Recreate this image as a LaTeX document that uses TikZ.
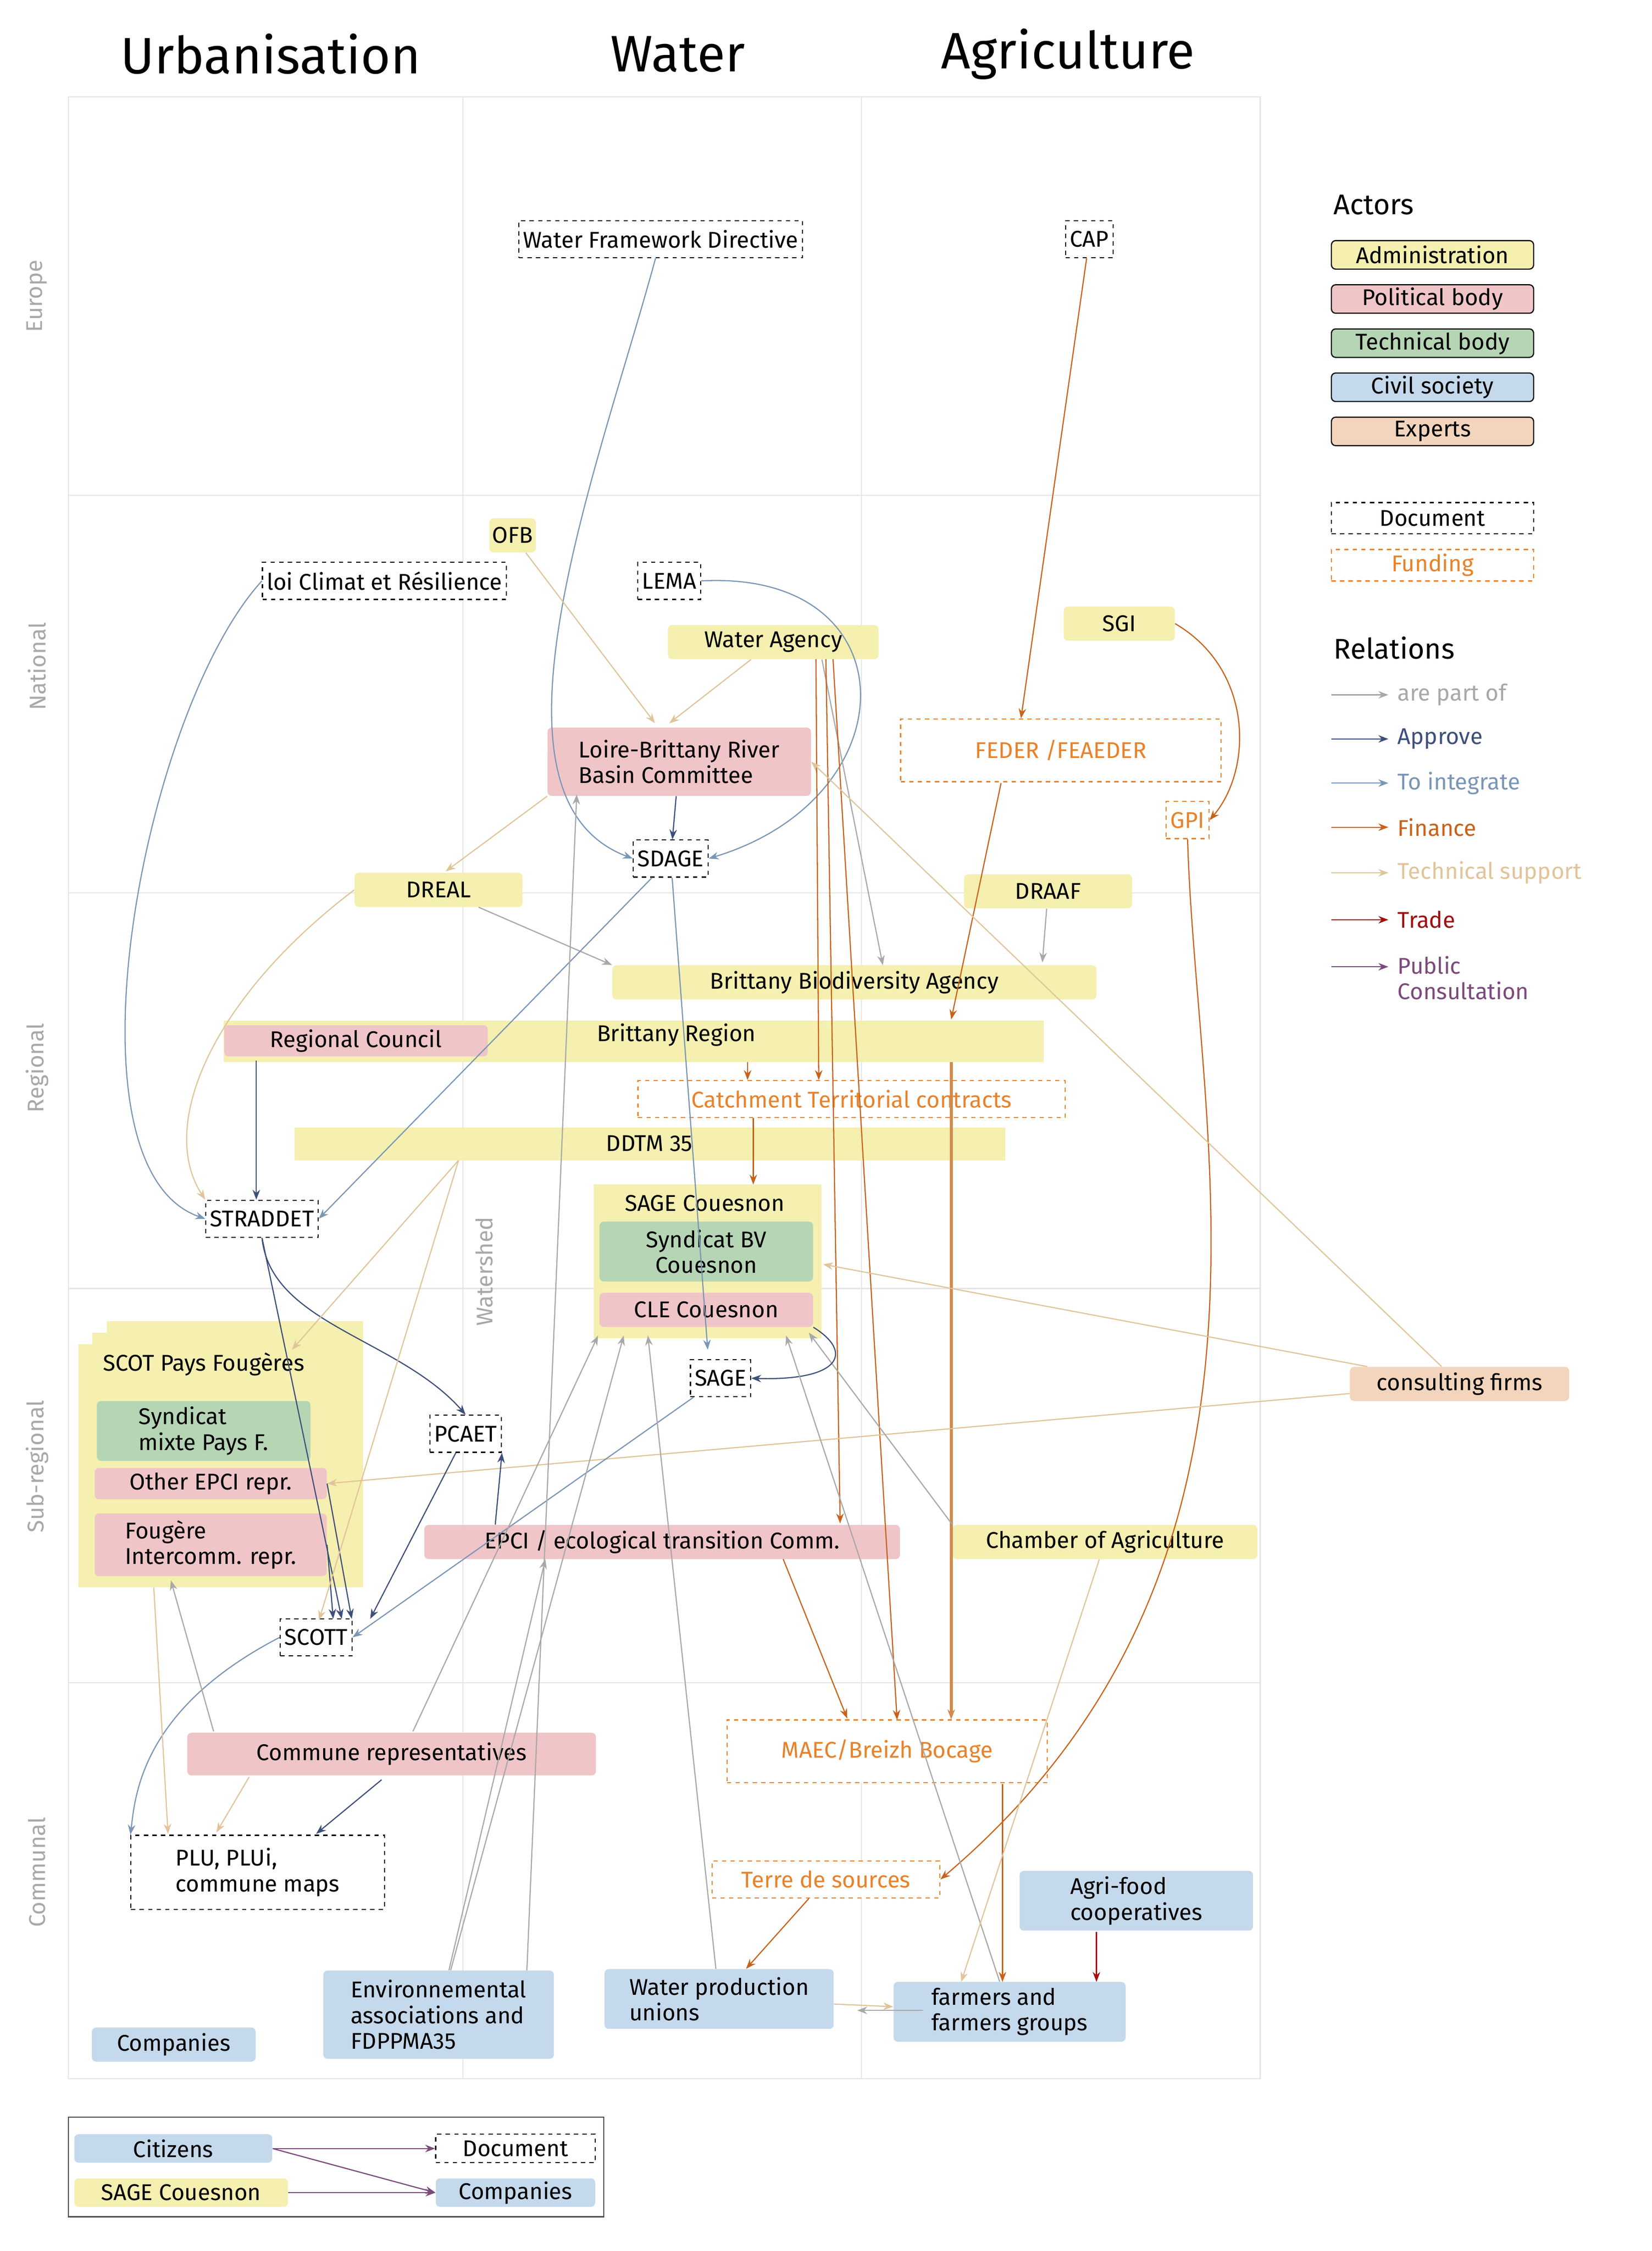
\documentclass[tikz,border=0pt]{standalone}
\usepackage{fontspec}
\setmainfont{Fira Sans}
\usetikzlibrary{arrows.meta}
\definecolor{adm}{HTML}{F5EFB0}\definecolor{pol}{HTML}{EFC5C8}\definecolor{tec}{HTML}{B5D5B5}
\definecolor{civ}{HTML}{C5D9EC}\definecolor{exp}{HTML}{F2D5BC}
\definecolor{fin}{HTML}{C8621A}\definecolor{tsup}{HTML}{E0C49A}\definecolor{appr}{HTML}{3D4F7A}
\definecolor{integ}{HTML}{7A95B5}\definecolor{part}{HTML}{A8A8A8}\definecolor{trade}{HTML}{A01010}
\definecolor{cons}{HTML}{7A4A7A}\definecolor{fintxt}{HTML}{E8822A}
\begin{document}
\begin{tikzpicture}[x=1pt,y=-1pt,font=\fontsize{16}{18}\selectfont,
 box/.style={rounded corners=3pt,inner sep=2pt,minimum height=24pt,align=center},
 ad/.style={box,fill=adm},po/.style={box,fill=pol},te/.style={box,fill=tec},
 ci/.style={box,fill=civ},ex/.style={box,fill=exp},
 doc/.style={draw,dashed,thick,inner sep=3pt,minimum height=26pt,fill=white},
 fu/.style={draw=fintxt,dashed,thick,text=fintxt,inner sep=3pt,minimum height=26pt,fill=white},
 a/.style={-{Stealth[length=7pt]},thick},
 apr/.style={a,appr},int/.style={a,integ},fi/.style={a,fin},ts/.style={a,tsup},pa/.style={a,part},
 tr/.style={a,trade},cn/.style={a,cons},
 rowl/.style={rotate=90,text=part},colh/.style={font=\fontsize{36}{40}\selectfont}]
\useasboundingbox (0,0) rectangle (1160,1581);
% grid
\draw[black!10,thick] (48,68) rectangle (885,1460);
\foreach \x in {325,605} \draw[black!10,thick] (\x,68)--(\x,1460);
\foreach \y in {348,627,905,1182} \draw[black!10,thick] (48,\y)--(885,\y);
\node[colh] at (190,38) {Urbanisation};\node[colh] at (476,38) {Water};\node[colh] at (750,38) {Agriculture};
\node[rowl] at (26,208) {Europe};\node[rowl] at (26,468) {National};\node[rowl] at (26,750) {Regional};
\node[rowl] at (26,1030) {Sub-regional};\node[rowl] at (26,1315) {Communal};
\node[rowl] at (340,893) {Watershed};
% big boxes
\fill[adm] (157,717) rectangle (733,746);
\fill[adm] (207,792) rectangle (706,815);
\fill[adm] (417,832) rectangle (577,940);
\fill[adm] (75,928) rectangle (255,1095);\fill[adm] (65,936) rectangle (255,1105);\fill[adm] (55,944) rectangle (255,1115);
% nodes
\node[doc] (wfd) at (464,168) {Water Framework Directive};
\node[doc] (cap) at (765,168) {CAP};
\node[ad] (ofb) at (360,376) {OFB};
\node[doc] (loi) at (270,408) {loi Climat et Résilience};
\node[doc] (lema) at (470,408) {LEMA};
\node[ad,minimum width=148pt] (wa) at (543,451) {Water Agency};
\node[ad,minimum width=78pt] (sgi) at (786,438) {SGI};
\node[po,minimum width=185pt,minimum height=48pt,align=left] (lb) at (477,535) {Loire-Brittany River\\Basin Committee};
\node[fu,minimum width=225pt,minimum height=44pt] (feder) at (745,527) {FEDER /FEAEDER};
\node[doc] (sdage) at (471,603) {SDAGE};
\node[fu] (gpi) at (834,576) {GPI};
\node[ad,minimum width=118pt] (dreal) at (308,625) {DREAL};
\node[ad,minimum width=118pt] (draaf) at (736,626) {DRAAF};
\node[ad,minimum width=340pt] (bba) at (600,690) {Brittany Biodiversity Agency};
\node (br) at (475,727) {Brittany Region};
\node[po,minimum width=185pt,minimum height=22pt] (rc) at (250,731) {Regional Council};
\node[fu,minimum width=300pt] (ctc) at (598,772) {Catchment Territorial contracts};
\node (ddtm) at (456,803) {DDTM 35};
\node[doc] (straddet) at (184,856) {STRADDET};
\node (sagec) at (495,845) {SAGE Couesnon};
\node[te,minimum width=150pt,minimum height=42pt] (sbv) at (496,879) {Syndicat BV\\Couesnon};
\node[po,minimum width=150pt] (cle) at (496,920) {CLE Couesnon};
\node[doc] (sage) at (506,968) {SAGE};
\node (scot) at (143,958) {SCOT Pays Fougères};
\node[te,minimum width=150pt,minimum height=42pt,align=left] (smpf) at (143,1005) {Syndicat\\mixte Pays F.};
\node[po,minimum width=163pt,minimum height=22pt] (oepci) at (148,1042) {Other EPCI repr.};
\node[po,minimum width=163pt,minimum height=44pt,align=left] (fic) at (148,1085) {Fougère\\Intercomm. repr.};
\node[doc] (pcaet) at (327,1007) {PCAET};
\node[po,minimum width=334pt] (epci) at (465,1083) {EPCI / ecological transition Comm.};
\node[ad,minimum width=214pt] (ca) at (776,1083) {Chamber of Agriculture};
\node[ex,minimum width=154pt] (cf) at (1025,972) {consulting firms};
\node[doc] (scott) at (222,1150) {SCOTT};
\node[po,minimum width=287pt,minimum height=30pt] (cr) at (275,1232) {Commune representatives};
\node[fu,minimum width=225pt,minimum height=44pt] (maec) at (623,1230) {MAEC/Breizh Bocage};
\node[doc,minimum width=178pt,minimum height=52pt,align=left] (plu) at (181,1315) {PLU, PLUi,\\commune maps};
\node[fu,minimum width=160pt] (tds) at (580,1320) {Terre de sources};
\node[ci,minimum width=164pt,minimum height=42pt,align=left] (afc) at (798,1335) {Agri-food\\cooperatives};
\node[ci,minimum width=162pt,minimum height=62pt,align=left] (env) at (308,1415) {Environnemental\\associations and\\FDPPMA35};
\node[ci,minimum width=161pt,minimum height=42pt,align=left] (wpu) at (505,1404) {Water production\\unions};
\node[ci,minimum width=163pt,minimum height=42pt,align=left] (farm) at (709,1413) {farmers and\\farmers groups};
\node[ci,minimum width=115pt] (comp) at (122,1436) {Companies};
% coordinates
\coordinate (brf) at (668,746);\coordinate (brc) at (525,746);
% edges
\draw[int] (wfd) .. controls (420,330) and (330,560) .. (sdage.west);
\draw[int] (lema.east) .. controls (640,400) and (640,560) .. (sdage.east);
\draw[int] (loi.west) .. controls (100,500) and (40,820) .. (straddet.west);
\draw[ts] (ofb) -- (460,508);
\draw[ts] (wa) -- (470,508);
\draw[apr] (lb) -- (sdage);
\draw[pa] (wa.south east)++(-40,0) -- (620,678);
\draw[fi] (573,463) -- (ctc.north -| 575,0);
\draw[fi] (580,463) -- (590,1070);
\draw[fi] (585,463) -- (630,1208);
\draw[fi] (cap) -- (feder.north -| 717,0);
\draw[fi] (703,550) -- (668,716);
\draw[fi] (sgi.east) .. controls (880,470) and (880,540) .. (gpi.east);
\draw[fi] (gpi.south) .. controls (840,800) and (920,1100) .. (tds.east);
\draw[ts] (lb.south west) -- (313,612);
\draw[pa] (dreal) -- (bba.north west);
\draw[pa] (draaf) -- (732,676);
\draw[ts] (dreal.west) .. controls (150,700) and (110,790) .. (straddet.north west);
\draw[int] (sdage) -- (straddet.east);
\draw[int] (sdage) -- (497,948);
\draw[apr] (180,745) -- (straddet.north -| 180,0);
\draw[fi] (brc) -- (ctc.north -| 525,0);
\draw[fi] (ctc.south -| 529,0) -- (529,832);
\draw[fi,draw=fin!60!tsup,line width=2pt] (brf) -- (maec.north -| 668,0);
\draw[ts] (cf) -- (lb.east);
\draw[ts] (cf) -- (578,888);
\draw[ts] (cf) -- (oepci.east);
\draw[pa] (ca.north west) -- (568,936);
\draw[apr] (straddet.south) .. controls (190,930) and (280,940) .. (pcaet.north);
\draw[apr] (straddet.south) -- (240,1137);
\draw[apr] (fic.east) -- (234,1137);
\draw[apr] (oepci.east) -- (247,1137);
\draw[apr] (pcaet) -- (260,1137);
\draw[apr] (epci.north west)++(50,0) -- (pcaet.south east);
\draw[int] (sage) -- (scott.east);
\draw[apr] (cle.south east) .. controls (600,950) and (590,970) .. (sage.east);
\draw[ts] (322,815) -- (205,948);
\draw[ts] (322,815) -- (224,1138);
\draw[int] (scott.west) .. controls (100,1200) and (95,1260) .. (plu.north west);
\draw[ts] (175,1248) -- (152,1287);
\draw[pa] (150,1216) -- (120,1110);
\draw[apr] (268,1250) -- (222,1288);
\draw[pa] (env) -- (438,938);
\draw[pa] (env) -- (383,1095);
\draw[pa] (290,1216) -- (420,938);
\draw[pa] (370,1384) -- (405,558);
\draw[pa] (wpu) -- (455,938);
\draw[pa] (farm) -- (552,938);
\draw[ts] (wpu) -- (farm);
\draw[fi] (tds) -- (wpu);
\draw[fi] (704,1253) -- (704,1392);
\draw[tr] (770,1357) -- (770,1392);
\draw[ts] (ca) -- (675,1392);
\draw[fi] (550,1095) -- (595,1207);
\draw[ts] (108,1115) -- (118,1288);
\draw[pa] (648,1412) -- (602,1412);
% legend
\node[anchor=west,font=\fontsize{20}{22}\selectfont] at (933,144) {Actors};
\foreach \c/\t/\y in {adm/Administration/179,pol/Political body/210,tec/Technical body/241,civ/Civil society/272,exp/Experts/303}
 \node[draw,thick,fill=\c,rounded corners=3pt,minimum width=142pt,minimum height=20pt,inner sep=1pt] at (1006,\y) {\t};
\node[doc,minimum width=142pt,minimum height=22pt,inner sep=1pt] at (1006,364) {Document};
\node[fu,minimum width=142pt,minimum height=22pt,inner sep=1pt] at (1006,397) {Funding};
\node[anchor=west,font=\fontsize{20}{22}\selectfont] at (933,455) {Relations};
\foreach \s/\c/\t/\y in {pa/part/are part of/488,apr/appr/Approve/519,int/integ/To integrate/550,fi/fin/Finance/581,ts/tsup/Technical support/613,tr/trade/Trade/646}
 {\coordinate (l\y) at (935,\y);\coordinate (r\y) at (975,\y);\draw[\s] (l\y) -- (r\y);\node[anchor=west,text=\c] at (978,\y) {\t};}
\coordinate (l679) at (935,679);\coordinate (r679) at (975,679);\draw[cn] (l679)--(r679);
\node[anchor=north west,text=cons,align=left] at (978,668) {Public\\Consultation};
% bottom legend
\draw[thick,black!70] (48,1487) rectangle (424,1557);
\node[ci,minimum width=139pt,minimum height=20pt,anchor=west] (cit) at (52,1509) {Citizens};
\node[ad,minimum width=150pt,minimum height=20pt,anchor=west] (sc2) at (52,1540) {SAGE Couesnon};
\node[doc,minimum width=112pt,minimum height=20pt,inner sep=1pt] (d2) at (362,1509) {Document};
\node[ci,minimum width=112pt,minimum height=20pt] (c2) at (362,1540) {Companies};
\draw[cn] (cit) -- (d2);\draw[cn] (cit.east) -- (c2.west);\draw[cn] (sc2) -- (c2);
\end{tikzpicture}
\end{document}
